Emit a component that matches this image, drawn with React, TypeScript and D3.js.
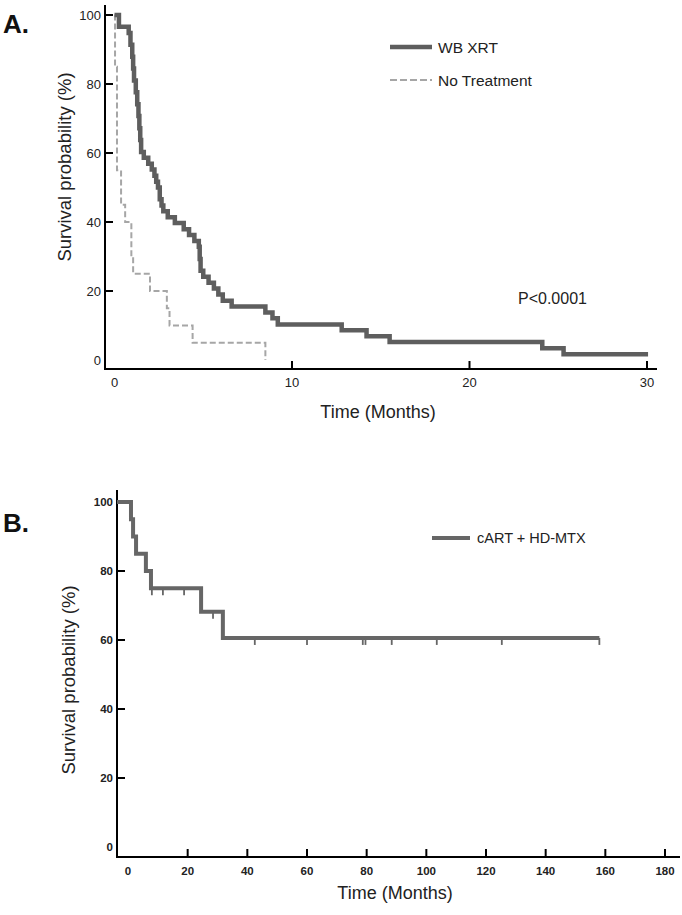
import React, { useEffect, useRef } from "react";
import * as d3 from "d3";

// Panel A: WB XRT vs No Treatment (months)
const wbTimes = [0, 0.25, 0.8, 0.9, 1.0, 1.05, 1.1, 1.2, 1.28, 1.35, 1.4, 1.45, 1.5, 1.65, 1.9, 2.1, 2.25, 2.35, 2.45, 2.55, 2.65, 2.75, 3.0, 3.4, 3.9, 4.2, 4.5, 4.75, 4.8, 4.85, 5.0, 5.3, 5.6, 5.85, 6.1, 6.6, 8.5, 8.9, 9.2, 12.8, 14.2, 15.5, 24.1, 25.3, 30.06];
const wbSurv = [100, 96.6, 94.8, 91.4, 87.9, 84.5, 81.0, 77.6, 74.1, 70.7, 67.2, 63.8, 60.3, 58.6, 56.9, 55.2, 53.4, 51.7, 50.0, 46.6, 44.8, 43.1, 41.4, 39.7, 37.9, 36.2, 34.5, 32.8, 29.3, 25.9, 24.1, 22.4, 20.7, 19.0, 17.2, 15.5, 13.8, 12.1, 10.3, 8.6, 6.9, 5.2, 3.4, 1.7, 1.7];

const ntTimes = [0, 0.03, 0.14, 0.37, 0.6, 0.95, 1.05, 2.0, 2.95, 3.1, 4.4, 8.5];
const ntSurv = [100, 85, 55, 45, 40, 30, 25, 20, 15, 10, 5, 0];

const aXTicks = [0, 10, 20, 30];
const aYTicks = [0, 20, 40, 60, 80, 100];

// Panel B: cART + HD-MTX
const cartTimes = [0, 1, 1.7, 2.7, 6, 7.7, 24.5, 31.8, 158];
const cartSurv = [100, 95, 90, 85, 80, 75, 68.2, 60.6, 60.6];
const cartCensored = [8.0, 11.7, 18.8, 28.5, 42.5, 60, 78.7, 79.6, 88.4, 103.5, 125.3, 158];

const bXTicks = [0, 20, 40, 60, 80, 100, 120, 140, 160, 180];
const bYTicks = [0, 20, 40, 60, 80, 100];

const FONT = "'Liberation Sans', Arial, sans-serif";

const zip = (t: number[], s: number[]) => t.map((d, i) => ({ t: d, s: s[i] }));

const survAt = (times: number[], surv: number[], t: number) => {
    const i = d3.bisectRight(times, t) - 1;
    return surv[Math.max(0, i)];
};

export default function App() {
    const ref = useRef<SVGSVGElement>(null);

    useEffect(() => {
        const svg = d3.select(ref.current);
        svg.selectAll("*").remove();

        const drawPanel = (opts: any) => {
            const { x, y, axisX, axisY, xTop, xEnd, xTicks, yTicks, tickFont, tickWeight, xLabelY } = opts;
            const g = svg.append("g");

            // axes lines
            g.append("line").attr("x1", axisX).attr("x2", axisX).attr("y1", xTop).attr("y2", axisY)
                .attr("stroke", "#000").attr("stroke-width", 2);
            g.append("line").attr("x1", axisX - 1).attr("x2", xEnd).attr("y1", axisY).attr("y2", axisY)
                .attr("stroke", "#000").attr("stroke-width", 2);

            // inward ticks (no tick at 0)
            g.selectAll(".xt").data(xTicks.filter((d: number) => d !== 0)).enter().append("line")
                .attr("x1", (d: number) => x(d)).attr("x2", (d: number) => x(d))
                .attr("y1", axisY).attr("y2", axisY - 8)
                .attr("stroke", "#000").attr("stroke-width", 2);
            g.selectAll(".yt").data(yTicks.filter((d: number) => d !== 0)).enter().append("line")
                .attr("x1", axisX).attr("x2", axisX + 8)
                .attr("y1", (d: number) => y(d)).attr("y2", (d: number) => y(d))
                .attr("stroke", "#000").attr("stroke-width", 2);

            g.selectAll(".xl").data(xTicks).enter().append("text")
                .attr("x", (d: number) => x(d)).attr("y", xLabelY)
                .attr("text-anchor", "middle").attr("dominant-baseline", "central")
                .attr("font-family", FONT).attr("font-size", tickFont).attr("font-weight", tickWeight)
                .attr("fill", "#222").text((d: number) => d);
            g.selectAll(".yl").data(yTicks).enter().append("text")
                .attr("x", axisX - 4).attr("y", (d: number) => y(d))
                .attr("text-anchor", "end").attr("dominant-baseline", "central")
                .attr("font-family", FONT).attr("font-size", tickFont).attr("font-weight", tickWeight)
                .attr("fill", "#222").text((d: number) => d);
            return g;
        };

        // ---------- Panel A ----------
        const xA = d3.scaleLinear().domain([0, 30]).range([114.5, 647]);
        const yA = d3.scaleLinear().domain([0, 100]).range([360, 15]);
        const gA = drawPanel({
            x: xA, y: yA, axisX: 105, axisY: 369, xTop: 5, xEnd: 657,
            xTicks: aXTicks, yTicks: aYTicks, tickFont: 13, tickWeight: "normal", xLabelY: 382,
        });
        const lineA = d3.line<any>().x(d => xA(d.t)).y(d => yA(d.s)).curve(d3.curveStepAfter);

        gA.append("path").datum(zip(ntTimes, ntSurv)).attr("d", lineA)
            .attr("fill", "none").attr("stroke", "#a6a6a6").attr("stroke-width", 2).attr("stroke-dasharray", "6,3");
        gA.append("path").datum(zip(wbTimes, wbSurv)).attr("d", lineA)
            .attr("fill", "none").attr("stroke", "#5e5e5e").attr("stroke-width", 4.5);

        // legend A
        gA.append("line").attr("x1", 390).attr("x2", 432).attr("y1", 47).attr("y2", 47)
            .attr("stroke", "#5e5e5e").attr("stroke-width", 4.5);
        gA.append("line").attr("x1", 390).attr("x2", 432).attr("y1", 80).attr("y2", 80)
            .attr("stroke", "#a6a6a6").attr("stroke-width", 2).attr("stroke-dasharray", "7,3");
        gA.append("text").attr("x", 438).attr("y", 47).attr("dominant-baseline", "central")
            .attr("font-family", FONT).attr("font-size", 15.5).attr("fill", "#222").text("WB XRT");
        gA.append("text").attr("x", 438).attr("y", 80).attr("dominant-baseline", "central")
            .attr("font-family", FONT).attr("font-size", 15.5).attr("fill", "#222").text("No Treatment");

        gA.append("text").attr("x", 518).attr("y", 298).attr("dominant-baseline", "central")
            .attr("font-family", FONT).attr("font-size", 16).attr("fill", "#222").text("P<0.0001");

        gA.append("text").attr("x", 378).attr("y", 412).attr("text-anchor", "middle").attr("dominant-baseline", "central")
            .attr("font-family", FONT).attr("font-size", 18).attr("fill", "#222").text("Time (Months)");
        gA.append("text").attr("transform", "translate(64,167) rotate(-90)").attr("text-anchor", "middle")
            .attr("dominant-baseline", "central")
            .attr("font-family", FONT).attr("font-size", 18.5).attr("fill", "#222").text("Survival probability (%)");
        gA.append("text").attr("x", 3).attr("y", 33)
            .attr("font-family", FONT).attr("font-size", 26).attr("font-weight", "bold").attr("fill", "#111").text("A.");

        // ---------- Panel B ----------
        const xB = d3.scaleLinear().domain([0, 180]).range([128, 665]);
        const yB = d3.scaleLinear().domain([0, 100]).range([847, 502]);
        const gB = drawPanel({
            x: xB, y: yB, axisX: 117, axisY: 857, xTop: 490, xEnd: 680,
            xTicks: bXTicks, yTicks: bYTicks, tickFont: 11.5, tickWeight: "bold", xLabelY: 871,
        });
        const lineB = d3.line<any>().x(d => xB(d.t)).y(d => yB(d.s)).curve(d3.curveStepAfter);

        gB.append("path").datum([{ t: -3.7, s: 100 }, ...zip(cartTimes, cartSurv)]).attr("d", lineB)
            .attr("fill", "none").attr("stroke", "#666").attr("stroke-width", 4);

        gB.selectAll(".cens").data(cartCensored).enter().append("line")
            .attr("x1", d => xB(d)).attr("x2", d => xB(d))
            .attr("y1", d => yB(survAt(cartTimes, cartSurv, d)))
            .attr("y2", d => yB(survAt(cartTimes, cartSurv, d)) + 7)
            .attr("stroke", "#666").attr("stroke-width", 1.8);

        gB.append("line").attr("x1", 432).attr("x2", 470).attr("y1", 538).attr("y2", 538)
            .attr("stroke", "#666").attr("stroke-width", 4);
        gB.append("text").attr("x", 477).attr("y", 538).attr("dominant-baseline", "central")
            .attr("font-family", FONT).attr("font-size", 14.5).attr("fill", "#222").text("cART + HD-MTX");

        gB.append("text").attr("x", 395).attr("y", 893).attr("text-anchor", "middle").attr("dominant-baseline", "central")
            .attr("font-family", FONT).attr("font-size", 18).attr("fill", "#222").text("Time (Months)");
        gB.append("text").attr("transform", "translate(68,680) rotate(-90)").attr("text-anchor", "middle")
            .attr("dominant-baseline", "central")
            .attr("font-family", FONT).attr("font-size", 18.5).attr("fill", "#222").text("Survival probability (%)");
        gB.append("text").attr("x", 3).attr("y", 532)
            .attr("font-family", FONT).attr("font-size", 26).attr("font-weight", "bold").attr("fill", "#111").text("B.");
    }, []);

    return (
        <svg ref={ref} width={682} height={915}
            style={{ position: "absolute", left: 0, top: 0, background: "#fff" }} />
    );
}
